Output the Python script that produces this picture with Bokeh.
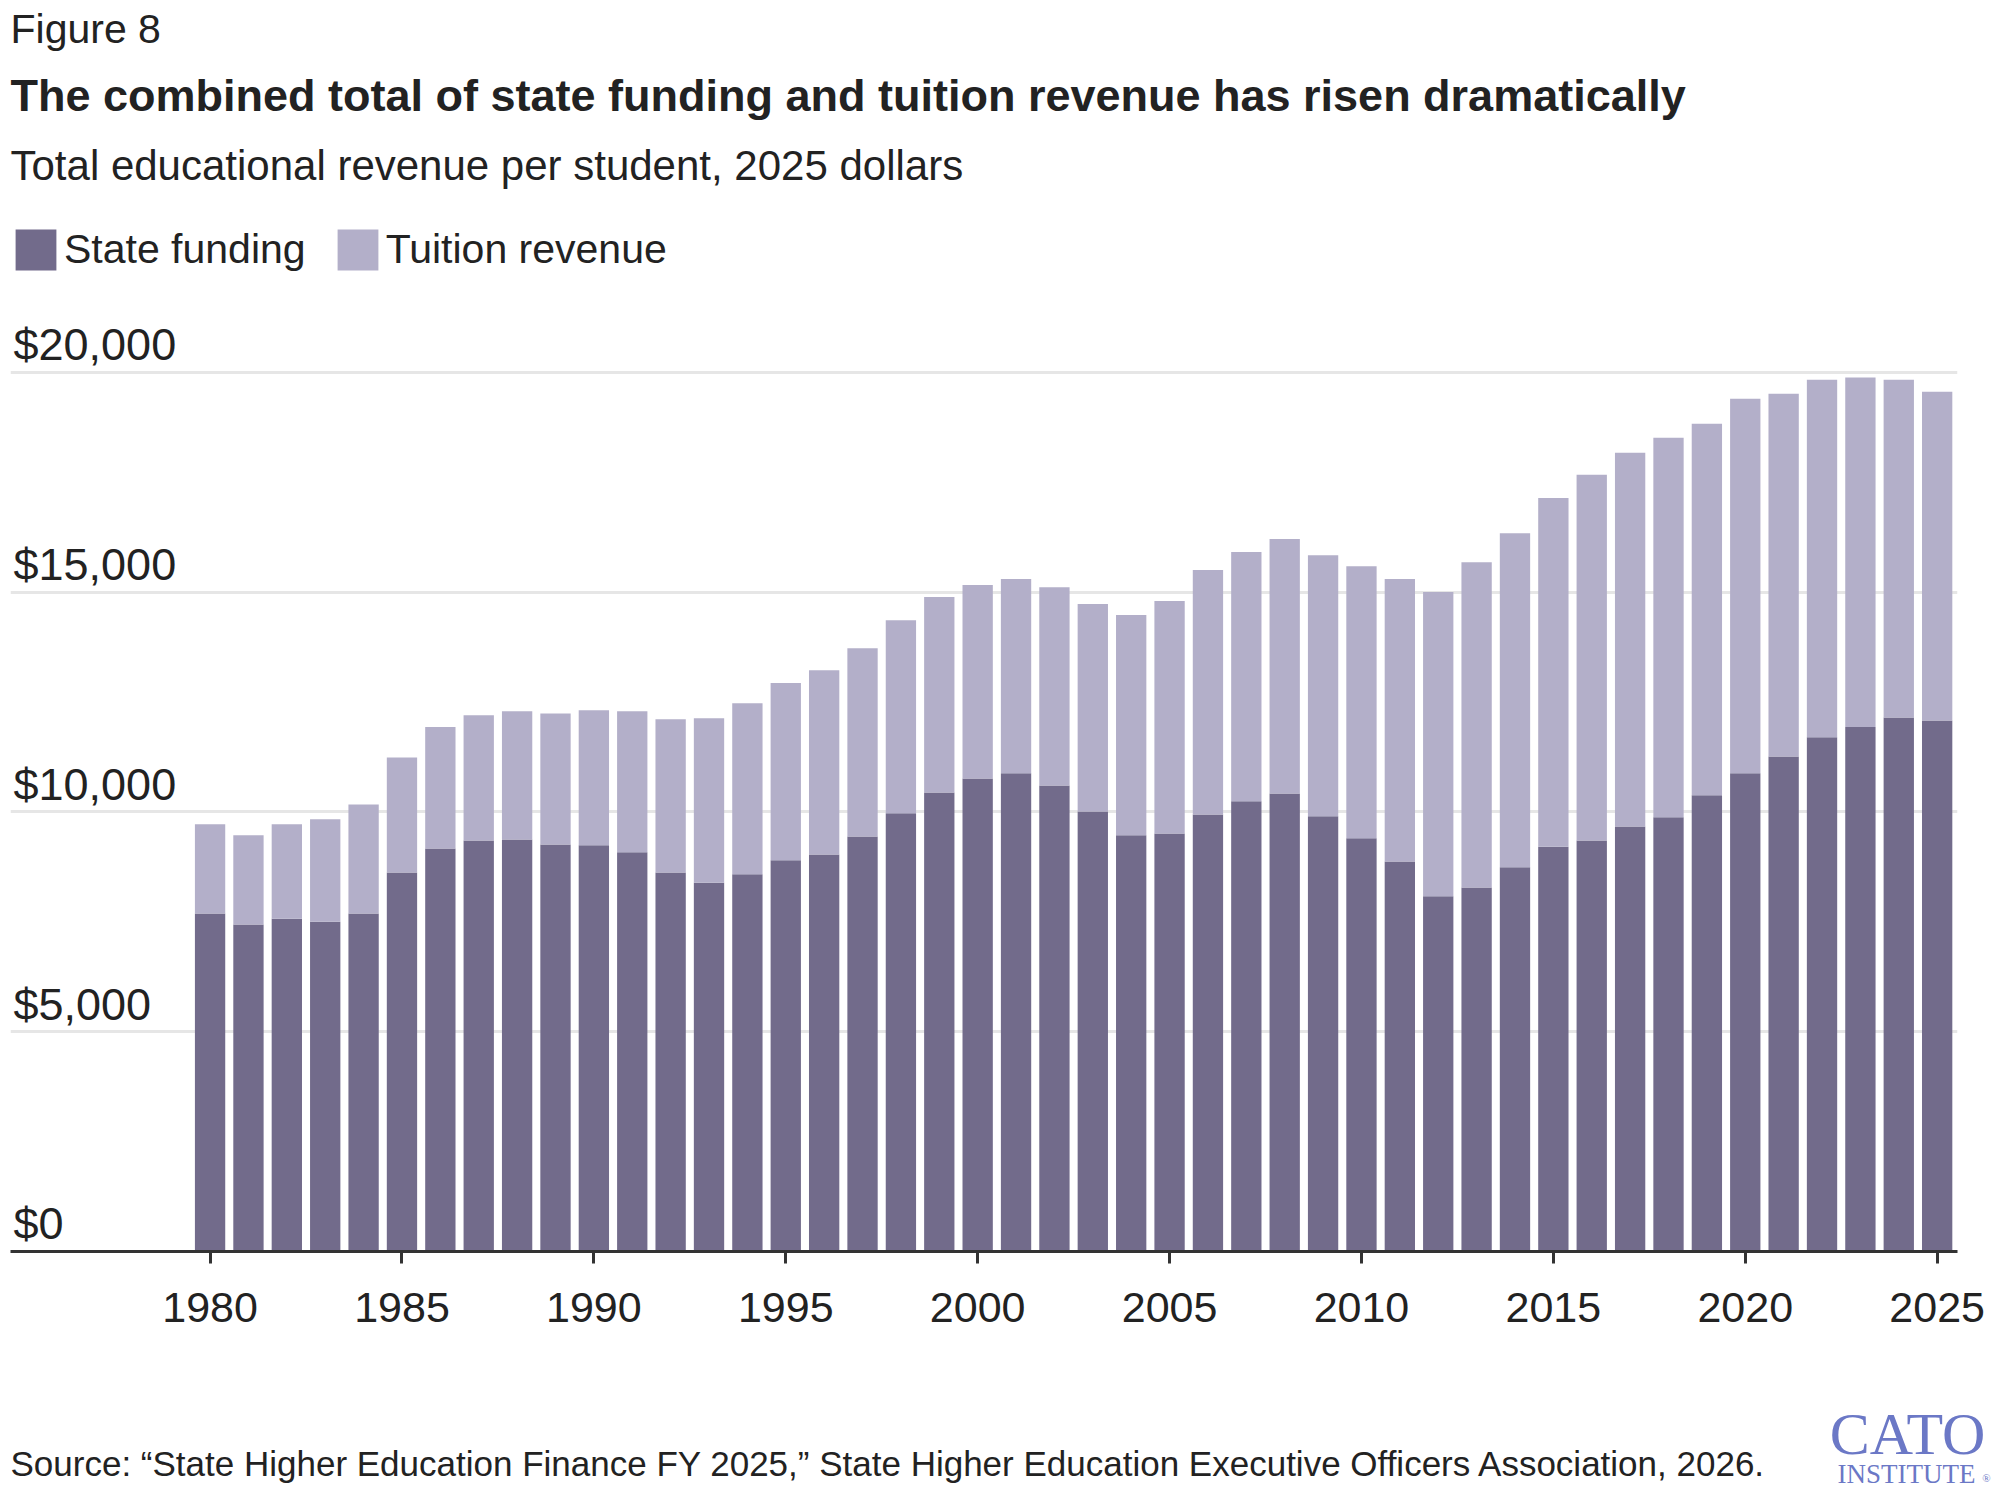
from bokeh.plotting import figure
from bokeh.models import ColumnDataSource, Range1d, FixedTicker, Grid
from bokeh.layouts import column
from bokeh.embed import file_html
from bokeh.resources import INLINE
from bokeh.core.properties import value

# ---------------- data ----------------
years = list(range(1980, 2026))
state_funding = [
    7690, 7440, 7570, 7500, 7690,
    8620, 9170, 9350, 9370, 9260,
    9240, 9080, 8620, 8390, 8580,
    8900, 9030, 9440, 9970, 10440,
    10760, 10880, 10600, 10010, 9470,
    9510, 9940, 10240, 10420, 9900,
    9400, 8870, 8080, 8280, 8740,
    9210, 9350, 9670, 9880, 10380,
    10880, 11260, 11700, 11930, 12150,
    12080,
]
tuition_revenue = [
    2030, 2030, 2150, 2330, 2480,
    2620, 2760, 2850, 2920, 2980,
    3070, 3210, 3490, 3740, 3890,
    4030, 4190, 4280, 4390, 4450,
    4400, 4420, 4510, 4720, 5010,
    5290, 5560, 5670, 5790, 5940,
    6190, 6430, 6920, 7400, 7600,
    7930, 8320, 8500, 8630, 8450,
    8520, 8250, 8130, 7950, 7680,
    7480,
]
series_names = ["State funding", "Tuition revenue"]
y_ticks = [0, 5000, 10000, 15000, 20000]
y_tick_labels = ["$0", "$5,000", "$10,000", "$15,000", "$20,000"]
x_ticks = [1980, 1985, 1990, 1995, 2000, 2005, 2010, 2015, 2020, 2025]

fig_label = "Figure 8"
title_text = "The combined total of state funding and tuition revenue has risen dramatically"
subtitle_text = "Total educational revenue per student, 2025 dollars"
source_text = ("Source: \u201cState Higher Education Finance FY 2025,\u201d State Higher Education "
               "Executive Officers Association, 2026.")

# ---------------- styles ----------------
FONT = "Liberation Sans"
SERIF = "Liberation Serif"
TXT = "#222222"
AXIS = "#333333"
GRID = "#e6e6e6"
DARK = "#726b8b"
LIGHT = "#b3afc9"
LOGO = "#6b78c6"

W = 1997
HEAD_H = 224
MAIN_H = 1166
FOOT_H = 109
FRAME_H = 1027
PX_PER_UNIT = 879.2 / 20000.0
Y_END = FRAME_H / PX_PER_UNIT
X_START, X_END = 1974.80, 2025.53
BL = 0.37  # baseline correction (fraction of font size)


def tx(fig, x, y, s, size, font=FONT, color=TXT, align="left", style="normal"):
    fig.text(x=[x], y=[y - BL * size], text=[s], text_font=value(font),
             text_font_size=f"{size}px", text_font_style=style, text_color=color,
             text_baseline="alphabetic", text_align=align)


# ---------------- header ----------------
head = figure(width=W, height=HEAD_H, x_range=Range1d(0, W), y_range=Range1d(HEAD_H, 0),
              output_backend="svg", toolbar_location=None, min_border=0, frame_align=False,
              x_axis_type=None, y_axis_type=None, outline_line_color=None)
tx(head, 10, 44, fig_label, 41)
tx(head, 10, 112, title_text, 45, style="bold")
tx(head, 10, 181, subtitle_text, 42)

# ---------------- main chart ----------------
src = ColumnDataSource(data={"year": years,
                             series_names[0]: state_funding,
                             series_names[1]: tuition_revenue})

p = figure(width=W, height=MAIN_H, x_range=Range1d(X_START, X_END), y_range=Range1d(0, Y_END),
           output_backend="svg", toolbar_location=None, y_axis_location=None, frame_align=False,
           min_border=0, min_border_left=10, min_border_right=40, min_border_top=0,
           min_border_bottom=MAIN_H - FRAME_H, outline_line_color=None)
p.xgrid.visible = False
for g in p.ygrid:
    g.visible = False
p.add_layout(Grid(dimension=1, ticker=FixedTicker(ticks=y_ticks[1:]),
                  grid_line_color=GRID, grid_line_width=3))

p.vbar_stack(series_names, x="year", width=0.79, source=src,
             fill_color=[DARK, LIGHT], line_color=None,
             legend_label=series_names)

p.xaxis.ticker = FixedTicker(ticks=x_ticks)
p.xaxis.major_tick_out = 12
p.xaxis.major_tick_in = 0
p.xaxis.minor_tick_out = 0
p.xaxis.minor_tick_in = 0
p.xaxis.axis_line_width = 3
p.xaxis.axis_line_color = AXIS
p.xaxis.major_tick_line_width = 3
p.xaxis.major_tick_line_color = AXIS
p.xaxis.major_label_text_font = FONT
p.xaxis.major_label_text_font_size = "43px"
p.xaxis.major_label_text_color = TXT
p.xaxis.major_label_standoff = 29

# y tick labels sitting above the gridlines
YL_SIZE = 45
label_gap = (11 + BL * YL_SIZE) / PX_PER_UNIT
p.text(x=[X_START] * len(y_ticks), y=[t + label_gap for t in y_ticks], text=y_tick_labels,
       x_offset=3, text_font=value(FONT), text_font_size=f"{YL_SIZE}px", text_color=TXT,
       text_baseline="alphabetic", text_align="left")

leg = p.legend[0]
leg.location = "top_left"
leg.orientation = "horizontal"
leg.margin = 0
leg.padding = 0
leg.spacing = 26
leg.glyph_width = 51
leg.glyph_height = 51
leg.label_height = 51
leg.label_standoff = 3
leg.label_text_font = FONT
leg.label_text_font_size = "41px"
leg.label_text_color = TXT
leg.background_fill_alpha = 0
leg.border_line_color = None

# ---------------- footer ----------------
foot = figure(width=W, height=FOOT_H, x_range=Range1d(0, W), y_range=Range1d(FOOT_H, 0),
              output_backend="svg", toolbar_location=None, min_border=0, frame_align=False,
              x_axis_type=None, y_axis_type=None, outline_line_color=None)
tx(foot, 10, 86, source_text, 35)
tx(foot, 1907, 66, "CATO", 60, font=SERIF, color=LOGO, align="center")
tx(foot, 1906, 93, "INSTITUTE", 27, font=SERIF, color=LOGO, align="center")
tx(foot, 1986, 92, "\u00ae", 11, font=SERIF, color=LOGO, align="center")

layout = column(head, p, foot, spacing=0)
open("out.html", "w").write(file_html(layout, INLINE))
